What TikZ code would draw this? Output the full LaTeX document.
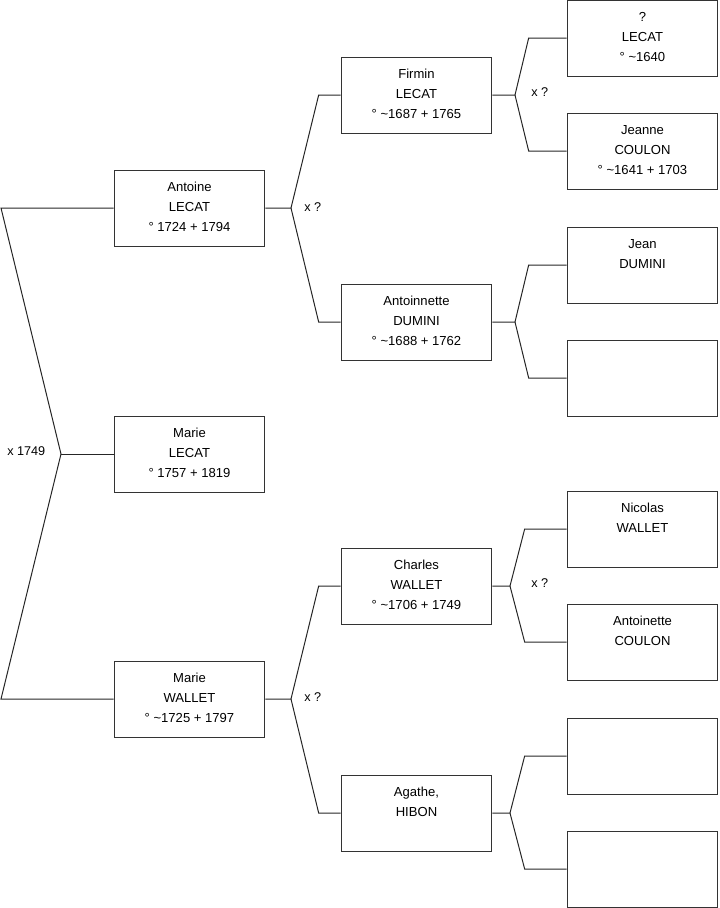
\documentclass[tikz,border=0pt]{standalone}
\usepackage{fontspec}
\setmainfont{Liberation Sans}
\usepackage{tikz}
\newcommand{\pers}[1]{\parbox[c][57pt][t]{113pt}{\centering\fontsize{9.8}{15}\selectfont\vspace*{5.25pt}\strut #1}}

\begin{document}
\begin{tikzpicture}[x=0.75pt,y=-0.75pt,box/.style={draw=black!80,inner sep=0pt,line width=0.75pt},lnk/.style={draw=black!85,line width=0.75pt},lab/.style={anchor=west,inner sep=0pt,font=\fontsize{9.5}{11}\selectfont}]
\useasboundingbox (0,0) rectangle (719,908);
% generation 1
\node[box] (antoine) at (189.5,208) {\pers{Antoine\\LECAT\\° 1724 + 1794}};
\node[box] (marieL) at (189.5,454) {\pers{Marie\\LECAT\\° 1757 + 1819}};
\node[box] (marieW) at (189.5,699) {\pers{Marie\\WALLET\\° \textasciitilde1725 + 1797}};
% generation 2
\node[box] (firmin) at (416.5,95) {\pers{Firmin\\LECAT\\° \textasciitilde1687 + 1765}};
\node[box] (antoinetteD) at (416.5,322) {\pers{Antoinnette\\DUMINI\\° \textasciitilde1688 + 1762}};
\node[box] (charles) at (416.5,586) {\pers{Charles\\WALLET\\° \textasciitilde1706 + 1749}};
\node[box] (agathe) at (416.5,813) {\pers{Agathe,\\HIBON}};
% generation 3
\node[box] (lecatQ) at (642.5,38) {\pers{?\\LECAT\\° \textasciitilde1640}};
\node[box] (jeanne) at (642.5,151) {\pers{Jeanne\\COULON\\° \textasciitilde1641 + 1703}};
\node[box] (jean) at (642.5,265) {\pers{Jean\\DUMINI}};
\node[box] (dumX) at (642.5,378) {\pers{}};
\node[box] (nicolas) at (642.5,529) {\pers{Nicolas\\WALLET}};
\node[box] (antoinetteC) at (642.5,642) {\pers{Antoinette\\COULON}};
\node[box] (hibA) at (642.5,756) {\pers{}};
\node[box] (hibB) at (642.5,869) {\pers{}};
% fork points
\coordinate (k0) at (61,454);
\coordinate (k0a) at (1,208);
\coordinate (k0b) at (1,699);
\coordinate (k1) at (291,208);
\coordinate (k2) at (291,699);
\coordinate (k3) at (515,95);
\coordinate (k4) at (515,322);
\coordinate (k5) at (510,586);
\coordinate (k6) at (510,813);
% links
\draw[lnk] (antoine.west) -- (k0a) -- (k0) -- (k0b) -- (marieW.west);
\draw[lnk] (k0) -- (marieL.west);
\draw[lnk] (antoine.east) -- (k1) -- ([xshift=-16.5pt]firmin.west) -- (firmin.west);
\draw[lnk] (k1) -- ([xshift=-16.5pt]antoinetteD.west) -- (antoinetteD.west);
\draw[lnk] (marieW.east) -- (k2) -- ([xshift=-16.5pt]charles.west) -- (charles.west);
\draw[lnk] (k2) -- ([xshift=-16.5pt]agathe.west) -- (agathe.west);
\draw[lnk] (firmin.east) -- (k3) -- ([xshift=-28.5pt]lecatQ.west) -- (lecatQ.west);
\draw[lnk] (k3) -- ([xshift=-28.5pt]jeanne.west) -- (jeanne.west);
\draw[lnk] (antoinetteD.east) -- (k4) -- ([xshift=-28.5pt]jean.west) -- (jean.west);
\draw[lnk] (k4) -- ([xshift=-28.5pt]dumX.west) -- (dumX.west);
\draw[lnk] (charles.east) -- (k5) -- ([xshift=-31.5pt]nicolas.west) -- (nicolas.west);
\draw[lnk] (k5) -- ([xshift=-31.5pt]antoinetteC.west) -- (antoinetteC.west);
\draw[lnk] (agathe.east) -- (k6) -- ([xshift=-31.5pt]hibA.west) -- (hibA.west);
\draw[lnk] (k6) -- ([xshift=-31.5pt]hibB.west) -- (hibB.west);
% marriages
\node[lab] (x0) at (7,451) {x 1749};
\node[lab] (x1) at (304,207) {x ?};
\node[lab] (x2) at (304,697) {x ?};
\node[lab] (x3) at (531,92) {x ?};
\node[lab] (x5) at (531,583) {x ?};
\end{tikzpicture}
\end{document}
